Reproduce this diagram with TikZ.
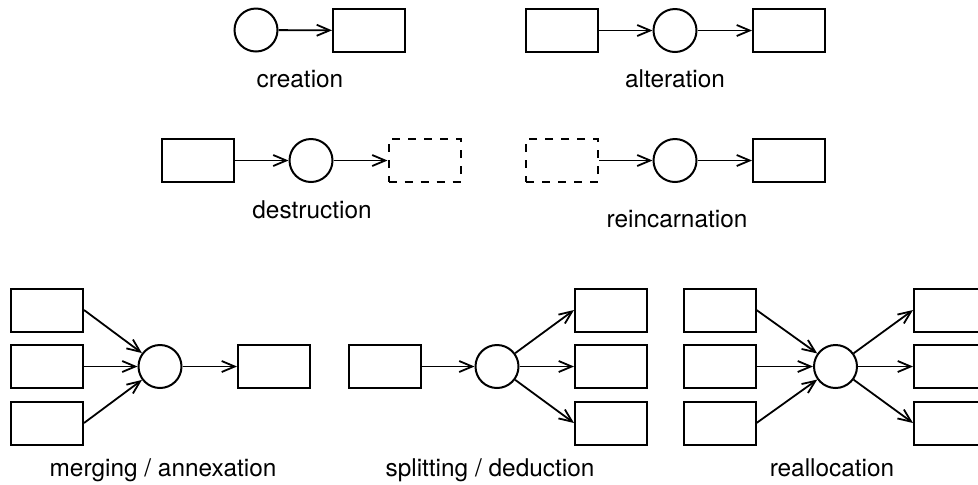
\documentclass[tikz,border=0pt]{standalone}
\usepackage{fontspec}
\setmainfont{TeX Gyre Heros}
\usetikzlibrary{arrows.meta}

\begin{document}
\begin{tikzpicture}[x=0.5pt,y=-0.5pt,
  obj/.style={draw,line width=1pt,inner sep=0pt,minimum width=36pt,minimum height=21.5pt},
  gone/.style={obj,dash pattern=on 4pt off 4pt},
  act/.style={draw,circle,line width=1pt,inner sep=0pt,minimum size=21.5pt},
  lbl/.style={anchor=base,font=\fontsize{12.2}{14}\selectfont},
  flow/.style={line width=0.9pt,-{Straight Barb[length=6.5pt,width=5.5pt]}}]
\useasboundingbox (0,0) rectangle (978,484);

% creation
\node[act] (crA) at (256,30) {};
\node[obj] (crB) at (369,30.5) {};
\node[lbl] (crL) at (300,87) {creation};
\draw[flow] (crA) -- (crB);

% alteration
\node[obj] (alA) at (562,30.5) {};
\node[act] (alB) at (675,30.5) {};
\node[obj] (alC) at (789,30.5) {};
\node[lbl] (alL) at (675,87) {alteration};
\draw[flow] (alA) -- (alB);
\draw[flow] (alB) -- (alC);

% destruction
\node[obj] (deA) at (197.5,160.5) {};
\node[act] (deB) at (311,160.5) {};
\node[gone] (deC) at (424.5,160.5) {};
\node[lbl] (deL) at (312,218) {destruction};
\draw[flow] (deA) -- (deB);
\draw[flow] (deB) -- (deC);

% reincarnation
\node[gone] (reA) at (562,160.5) {};
\node[act] (reB) at (675,160.5) {};
\node[obj] (reC) at (789,160.5) {};
\node[lbl] (reL) at (677,227) {reincarnation};
\draw[flow] (reA) -- (reB);
\draw[flow] (reB) -- (reC);

% merging / annexation
\node[obj] (meA) at (47,310) {};
\node[obj] (meB) at (47,366.5) {};
\node[obj] (meC) at (47,423) {};
\node[act] (meD) at (160,366.5) {};
\node[obj] (meE) at (274,366.5) {};
\node[lbl] (meL) at (163,476) {merging / annexation};
\draw[flow] (meA.east) -- (meD);
\draw[flow] (meB.east) -- (meD);
\draw[flow] (meC.east) -- (meD);
\draw[flow] (meD) -- (meE);

% splitting / deduction
\node[obj] (spA) at (384.5,366.5) {};
\node[act] (spB) at (497,366.5) {};
\node[obj] (spC) at (611,310) {};
\node[obj] (spD) at (611,366.5) {};
\node[obj] (spE) at (611,423) {};
\node[lbl] (spL) at (490,476) {splitting / deduction};
\draw[flow] (spA) -- (spB);
\draw[flow] (spB) -- (spC.west);
\draw[flow] (spB) -- (spD.west);
\draw[flow] (spB) -- (spE.west);

% reallocation
\node[obj] (raA) at (719.5,310) {};
\node[obj] (raB) at (719.5,366.5) {};
\node[obj] (raC) at (719.5,423) {};
\node[act] (raD) at (835.5,366.5) {};
\node[obj] (raE) at (950,310) {};
\node[obj] (raF) at (950,366.5) {};
\node[obj] (raG) at (950,423) {};
\node[lbl] (raL) at (832,476) {reallocation};
\draw[flow] (raA.east) -- (raD);
\draw[flow] (raB.east) -- (raD);
\draw[flow] (raC.east) -- (raD);
\draw[flow] (raD) -- (raE.west);
\draw[flow] (raD) -- (raF.west);
\draw[flow] (raD) -- (raG.west);

\end{tikzpicture}
\end{document}
